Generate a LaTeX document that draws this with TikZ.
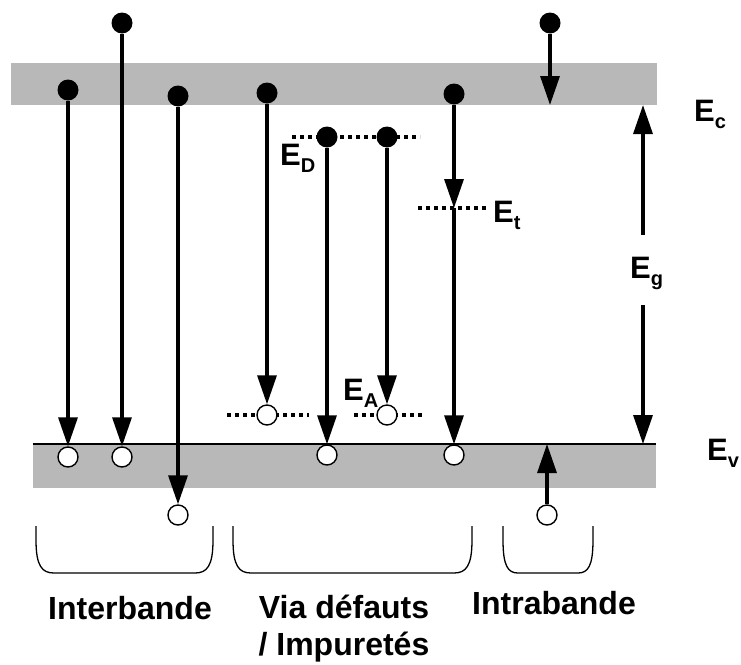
\documentclass[tikz,border=0pt]{standalone}
\usepackage{fontspec}
\setmainfont{Liberation Sans}
\usetikzlibrary{arrows.meta}

\newcommand{\lvlname}[1]{E\raisebox{-7pt}{\fontsize{20}{20}\selectfont #1}}

\begin{document}
\begin{tikzpicture}[x=1pt,y=-1pt,
    band/.style={fill=black!28,draw=none},
    level/.style={line width=3.5pt,dash pattern=on 4pt off 4pt},
    jump/.style={line width=3.3pt,-{Triangle[length=29pt,width=19pt]}},
    brace/.style={line width=1.3pt},
    lvltext/.style={anchor=base west,inner sep=0pt,font=\bfseries\fontsize{31}{34}\selectfont},
    kindtext/.style={anchor=base,inner sep=0pt,font=\bfseries\fontsize{32}{36}\selectfont}]

        \useasboundingbox (0,0) rectangle (741,664);

        % bands
        \fill[band] (11,63) rectangle (657,105);
        \fill[band] (33,444) rectangle (656,488);
        \draw[line width=2pt] (33,444) -- (656,444);

        % defect levels
        \draw[level] (292,137) -- (420,137);
        \draw[level] (227,415) -- (309,415);
        \draw[level] (354,415) -- (425,415);
        \draw[level] (418,208) -- (488,208);

        \coordinate (et)  at (454,208);
        \coordinate (cb)  at (550,105);
        \coordinate (vb)  at (547,444);
        \coordinate (g1)  at (643,235);
        \coordinate (g2)  at (643,105);
        \coordinate (g3)  at (643,305);
        \coordinate (g4)  at (643,444);

        \begin{scope}[every node/.style={circle,fill=black,minimum size=21pt,inner sep=0pt}]
          \node (e1) at (68,90)   {};
          \node (e2) at (122,23)  {};
          \node (e3) at (178,96)  {};
          \node (e4) at (267,93)  {};
          \node (e5) at (327,137) {};
          \node (e6) at (387,137) {};
          \node (e7) at (454,94)  {};
          \node (e8) at (550,23)  {};
        \end{scope}

        \begin{scope}[every node/.style={circle,draw,line width=1.4pt,fill=white,minimum size=20pt,inner sep=0pt}]
          \node (h1) at (68,457)  {};
          \node (h2) at (122,457) {};
          \node (h3) at (178,515) {};
          \node (h4) at (267,415) {};
          \node (h5) at (327,455) {};
          \node (h6) at (387,415) {};
          \node (h7) at (454,455) {};
          \node (h8) at (547,515) {};
        \end{scope}

        \begin{scope}[every edge/.style={draw,jump}]
          \path (e1) edge (h1);
          \path (e2) edge (h2);
          \path (e3) edge (h3);
          \path (e4) edge (h4);
          \path (e5) edge (h5);
          \path (e6) edge (h6);
          \path (e7) edge (et);
          \path (et) edge (h7);
          \path (e8) edge (cb);
          \path (h8) edge (vb);
          \path (g1) edge (g2);
          \path (g3) edge (g4);
        \end{scope}

        % level names
        \node[lvltext] (ec) at (694,121) {\lvlname{c}};
        \node[lvltext] (ev) at (707,460) {\lvlname{v}};
        \node[lvltext] (eg) at (630,278) {\lvlname{g}};
        \node[lvltext] (ed) at (280,165) {\lvlname{D}};
        \node[lvltext] (ea) at (343,400) {\lvlname{A}};
        \node[lvltext] (etx) at (493,222) {\lvlname{t}};

        % groups
        \draw[brace] (36,526) -- (36,540) .. controls (36,566) and (42,573) .. (54,573)
          -- (195,573) .. controls (207,573) and (213,566) .. (213,540) -- (213,526);
        \draw[brace] (233,526) -- (233,540) .. controls (233,566) and (239,573) .. (251,573)
          -- (454,573) .. controls (466,573) and (472,566) .. (472,540) -- (472,526);
        \draw[brace] (503,526) -- (503,540) .. controls (503,566) and (508,573) .. (518,573)
          -- (578,573) .. controls (588,573) and (593,566) .. (593,540) -- (593,526);

        \node[kindtext] (inter) at (130,619) {Interbande};
        \node[kindtext] (via)   at (344,618) {Via défauts};
        \node[kindtext] (imp)   at (344,655) {/ Impuretés};
        \node[kindtext] (intra) at (554,614) {Intrabande};

      \end{tikzpicture}
\end{document}
